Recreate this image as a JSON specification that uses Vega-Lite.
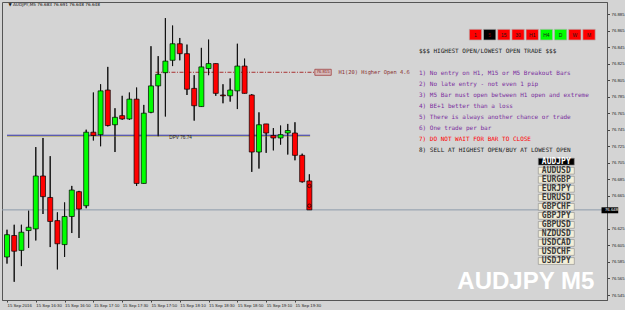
{
  "$schema": "https://vega.github.io/schema/vega-lite/v6.json",
  "width": 605,
  "height": 298,
  "autosize": "none",
  "padding": {"left": 2, "top": 2, "right": 18, "bottom": 10},
  "background": "#d4d4d4",
  "config": {
    "view": {"stroke": "#555555", "strokeWidth": 1},
    "axis": {"grid": false, "labelOverlap": false}
  },
  "datasets": {
    "candles": [
      {"t": "2016-09-15T16:10:00Z", "o": 76.591, "h": 76.624, "l": 76.583, "c": 76.618},
      {"t": "2016-09-15T16:15:00Z", "o": 76.617, "h": 76.630, "l": 76.561, "c": 76.598},
      {"t": "2016-09-15T16:20:00Z", "o": 76.599, "h": 76.630, "l": 76.580, "c": 76.621},
      {"t": "2016-09-15T16:25:00Z", "o": 76.623, "h": 76.647, "l": 76.602, "c": 76.627},
      {"t": "2016-09-15T16:30:00Z", "o": 76.625, "h": 76.724, "l": 76.611, "c": 76.689},
      {"t": "2016-09-15T16:35:00Z", "o": 76.689, "h": 76.735, "l": 76.643, "c": 76.664},
      {"t": "2016-09-15T16:40:00Z", "o": 76.663, "h": 76.713, "l": 76.603, "c": 76.634},
      {"t": "2016-09-15T16:45:00Z", "o": 76.635, "h": 76.645, "l": 76.576, "c": 76.607},
      {"t": "2016-09-15T16:50:00Z", "o": 76.606, "h": 76.657, "l": 76.591, "c": 76.640},
      {"t": "2016-09-15T16:55:00Z", "o": 76.640, "h": 76.677, "l": 76.620, "c": 76.672},
      {"t": "2016-09-15T17:00:00Z", "o": 76.670, "h": 76.671, "l": 76.614, "c": 76.649},
      {"t": "2016-09-15T17:05:00Z", "o": 76.653, "h": 76.745, "l": 76.650, "c": 76.742},
      {"t": "2016-09-15T17:10:00Z", "o": 76.742, "h": 76.790, "l": 76.732, "c": 76.738},
      {"t": "2016-09-15T17:15:00Z", "o": 76.739, "h": 76.800, "l": 76.725, "c": 76.792},
      {"t": "2016-09-15T17:20:00Z", "o": 76.793, "h": 76.821, "l": 76.749, "c": 76.750},
      {"t": "2016-09-15T17:25:00Z", "o": 76.751, "h": 76.771, "l": 76.718, "c": 76.760},
      {"t": "2016-09-15T17:30:00Z", "o": 76.762, "h": 76.786, "l": 76.757, "c": 76.758},
      {"t": "2016-09-15T17:35:00Z", "o": 76.758, "h": 76.790, "l": 76.757, "c": 76.782},
      {"t": "2016-09-15T17:40:00Z", "o": 76.782, "h": 76.796, "l": 76.677, "c": 76.680},
      {"t": "2016-09-15T17:45:00Z", "o": 76.680, "h": 76.775, "l": 76.680, "c": 76.765},
      {"t": "2016-09-15T17:50:00Z", "o": 76.766, "h": 76.846, "l": 76.765, "c": 76.798},
      {"t": "2016-09-15T17:55:00Z", "o": 76.798, "h": 76.834, "l": 76.737, "c": 76.812},
      {"t": "2016-09-15T18:00:00Z", "o": 76.814, "h": 76.880, "l": 76.761, "c": 76.828},
      {"t": "2016-09-15T18:05:00Z", "o": 76.829, "h": 76.871, "l": 76.822, "c": 76.849},
      {"t": "2016-09-15T18:10:00Z", "o": 76.849, "h": 76.856, "l": 76.829, "c": 76.837},
      {"t": "2016-09-15T18:15:00Z", "o": 76.837, "h": 76.848, "l": 76.787, "c": 76.794},
      {"t": "2016-09-15T18:20:00Z", "o": 76.795, "h": 76.811, "l": 76.756, "c": 76.774},
      {"t": "2016-09-15T18:25:00Z", "o": 76.773, "h": 76.844, "l": 76.773, "c": 76.821},
      {"t": "2016-09-15T18:30:00Z", "o": 76.819, "h": 76.854, "l": 76.811, "c": 76.825},
      {"t": "2016-09-15T18:35:00Z", "o": 76.825, "h": 76.825, "l": 76.786, "c": 76.789},
      {"t": "2016-09-15T18:40:00Z", "o": 76.787, "h": 76.800, "l": 76.777, "c": 76.786},
      {"t": "2016-09-15T18:45:00Z", "o": 76.786, "h": 76.807, "l": 76.779, "c": 76.793},
      {"t": "2016-09-15T18:50:00Z", "o": 76.792, "h": 76.849, "l": 76.770, "c": 76.822},
      {"t": "2016-09-15T18:55:00Z", "o": 76.822, "h": 76.831, "l": 76.789, "c": 76.789},
      {"t": "2016-09-15T19:00:00Z", "o": 76.787, "h": 76.788, "l": 76.694, "c": 76.718},
      {"t": "2016-09-15T19:05:00Z", "o": 76.718, "h": 76.766, "l": 76.698, "c": 76.751},
      {"t": "2016-09-15T19:10:00Z", "o": 76.752, "h": 76.752, "l": 76.717, "c": 76.741},
      {"t": "2016-09-15T19:15:00Z", "o": 76.738, "h": 76.747, "l": 76.720, "c": 76.735},
      {"t": "2016-09-15T19:20:00Z", "o": 76.735, "h": 76.750, "l": 76.727, "c": 76.739},
      {"t": "2016-09-15T19:25:00Z", "o": 76.741, "h": 76.752, "l": 76.715, "c": 76.744},
      {"t": "2016-09-15T19:30:00Z", "o": 76.741, "h": 76.754, "l": 76.708, "c": 76.714},
      {"t": "2016-09-15T19:35:00Z", "o": 76.714, "h": 76.716, "l": 76.681, "c": 76.682},
      {"t": "2016-09-15T19:40:00Z", "o": 76.683, "h": 76.691, "l": 76.648, "c": 76.648}
    ],
    "markers": [
      {"t": "2016-09-15T19:40:00Z", "p": 76.677},
      {"t": "2016-09-15T19:40:00Z", "p": 76.653}
    ],
    "rules": [
      {"line": 0, "kind": "header", "text": "$$$ HIGHEST OPEN/LOWEST OPEN TRADE $$$"},
      {"line": 2, "kind": "rule", "text": "1) No entry on H1, M15 or M5 Breakout Bars"},
      {"line": 3, "kind": "rule", "text": "2) No late entry - not even 1 pip"},
      {"line": 4, "kind": "rule", "text": "3) M5 Bar must open between H1 open and extreme"},
      {"line": 5, "kind": "rule", "text": "4) BE+1 better than a loss"},
      {"line": 6, "kind": "rule", "text": "5) There is always another chance or trade"},
      {"line": 7, "kind": "rule", "text": "6) One trade per bar"},
      {"line": 8, "kind": "warning", "text": "7) DO NOT WAIT FOR BAR TO CLOSE"},
      {"line": 9, "kind": "action", "text": "8) SELL AT HIGHEST OPEN/BUY AT LOWEST OPEN"}
    ],
    "timeframes": [
      {"tf": "1", "k": 0, "state": "down"},
      {"tf": "5", "k": 1, "state": "chart"},
      {"tf": "15", "k": 2, "state": "down"},
      {"tf": "30", "k": 3, "state": "down"},
      {"tf": "H1", "k": 4, "state": "down"},
      {"tf": "H4", "k": 5, "state": "up"},
      {"tf": "D", "k": 6, "state": "up"},
      {"tf": "W", "k": 7, "state": "down"},
      {"tf": "M", "k": 8, "state": "down"}
    ],
    "pairs": [
      {"pair": "AUDJPY", "k": 0, "current": true},
      {"pair": "AUDUSD", "k": 1, "current": false},
      {"pair": "EURGBP", "k": 2, "current": false},
      {"pair": "EURJPY", "k": 3, "current": false},
      {"pair": "EURUSD", "k": 4, "current": false},
      {"pair": "GBPCHF", "k": 5, "current": false},
      {"pair": "GBPJPY", "k": 6, "current": false},
      {"pair": "GBPUSD", "k": 7, "current": false},
      {"pair": "NZDUSD", "k": 8, "current": false},
      {"pair": "USDCAD", "k": 9, "current": false},
      {"pair": "USDCHF", "k": 10, "current": false},
      {"pair": "USDJPY", "k": 11, "current": false}
    ]
  },
  "layer": [
    {
      "layer": [
        {
          "data": {"name": "candles"},
          "mark": {"type": "rule", "color": "#111111", "strokeWidth": 1},
          "encoding": {
            "x": {
              "field": "t", "type": "temporal",
              "scale": {"type": "utc", "domain": [
                {"year": 2016, "month": 9, "date": 15, "hours": 16, "minutes": 10, "utc": true},
                {"year": 2016, "month": 9, "date": 15, "hours": 23, "minutes": 3, "seconds": 15, "utc": true}
              ]},
              "axis": {
                "orient": "bottom", "title": null, "tickCount": 40,
                "values": [
                  {"year": 2016, "month": 9, "date": 15, "hours": 16, "minutes": 10, "utc": true},
                  {"year": 2016, "month": 9, "date": 15, "hours": 16, "minutes": 30, "utc": true},
                  {"year": 2016, "month": 9, "date": 15, "hours": 16, "minutes": 50, "utc": true},
                  {"year": 2016, "month": 9, "date": 15, "hours": 17, "minutes": 10, "utc": true},
                  {"year": 2016, "month": 9, "date": 15, "hours": 17, "minutes": 30, "utc": true},
                  {"year": 2016, "month": 9, "date": 15, "hours": 17, "minutes": 50, "utc": true},
                  {"year": 2016, "month": 9, "date": 15, "hours": 18, "minutes": 10, "utc": true},
                  {"year": 2016, "month": 9, "date": 15, "hours": 18, "minutes": 30, "utc": true},
                  {"year": 2016, "month": 9, "date": 15, "hours": 18, "minutes": 50, "utc": true},
                  {"year": 2016, "month": 9, "date": 15, "hours": 19, "minutes": 10, "utc": true},
                  {"year": 2016, "month": 9, "date": 15, "hours": 19, "minutes": 30, "utc": true}
                ],
                "labelExpr": "utcFormat(datum.value, '%H:%M') == '16:10' ? '15 Sep 2016' : utcFormat(datum.value, '%d %b %H:%M')",
                "labelAlign": "left", "labelFont": "Liberation Sans", "labelFontSize": 4.3,
                "labelColor": "#222222", "labelPadding": 1.5, "labelOverlap": false, "labelBound": false,
                "labelFlush": false,
                "tickSize": 2, "tickColor": "#444444", "domainColor": "#555555"
              }
            },
            "y": {
              "field": "l", "type": "quantitative",
              "scale": {"domain": [76.53896, 76.89952], "nice": false, "zero": false},
              "axis": {
                "orient": "right", "title": null, "tickCount": 40,
                "values": [76.545, 76.565, 76.585, 76.605, 76.625, 76.665, 76.685, 76.705, 76.725, 76.745, 76.765, 76.785, 76.805, 76.825, 76.845, 76.865, 76.885],
                "format": ".3f", "labelFont": "Liberation Sans", "labelFontSize": 4.3,
                "labelColor": "#222222", "labelPadding": 1.5, "labelOverlap": false, "labelBound": false,
                "labelFlush": false,
                "tickSize": 2.5, "tickColor": "#444444", "domainColor": "#555555"
              }
            },
            "y2": {"field": "h"}
          }
        },
        {
          "data": {"values": [{}]},
          "mark": {"type": "rule", "color": "#8c9bab", "strokeWidth": 1},
          "encoding": {"y": {"datum": 76.648, "type": "quantitative"}}
        },
        {
          "data": {"values": [{}]},
          "mark": {"type": "rule", "color": "#b8b070", "strokeWidth": 1},
          "encoding": {
            "x": {"datum": {"year": 2016, "month": 9, "date": 15, "hours": 16, "minutes": 10, "utc": true}, "type": "temporal"},
            "x2": {"datum": {"year": 2016, "month": 9, "date": 15, "hours": 19, "minutes": 40, "seconds": 30, "utc": true}},
            "y": {"datum": 76.7370, "type": "quantitative"}
          }
        },
        {
          "data": {"values": [{}]},
          "mark": {"type": "rule", "color": "#3333aa", "strokeWidth": 1},
          "encoding": {
            "x": {"datum": {"year": 2016, "month": 9, "date": 15, "hours": 16, "minutes": 10, "utc": true}, "type": "temporal"},
            "x2": {"datum": {"year": 2016, "month": 9, "date": 15, "hours": 19, "minutes": 40, "seconds": 30, "utc": true}},
            "y": {"datum": 76.7383, "type": "quantitative"}
          }
        },
        {
          "data": {"values": [{}]},
          "mark": {"type": "rule", "color": "#a83232", "strokeWidth": 1, "strokeDash": [4, 1.5, 1, 1.5]},
          "encoding": {
            "x": {"datum": {"year": 2016, "month": 9, "date": 15, "hours": 17, "minutes": 53, "seconds": 8, "utc": true}, "type": "temporal"},
            "x2": {"datum": {"year": 2016, "month": 9, "date": 15, "hours": 19, "minutes": 43, "seconds": 48, "utc": true}},
            "y": {"datum": 76.8145, "type": "quantitative"}
          }
        },
        {
          "data": {"name": "candles"},
          "mark": {"type": "rule", "color": "#111111", "strokeWidth": 1},
          "encoding": {
            "x": {"field": "t", "type": "temporal"},
            "y": {"field": "l", "type": "quantitative"},
            "y2": {"field": "h"}
          }
        },
        {
          "data": {"name": "candles"},
          "mark": {"type": "bar", "width": 5, "stroke": "#000000", "strokeWidth": 0.7},
          "encoding": {
            "x": {"field": "t", "type": "temporal"},
            "y": {"field": "o", "type": "quantitative"},
            "y2": {"field": "c"},
            "color": {"condition": {"test": "datum.c >= datum.o", "value": "#00ff00"}, "value": "#ff0000"}
          }
        },
        {
          "data": {"name": "markers"},
          "mark": {"type": "point", "shape": "circle", "size": 12, "filled": false, "stroke": "#000000", "strokeWidth": 1},
          "encoding": {
            "x": {"field": "t", "type": "temporal"},
            "y": {"field": "p", "type": "quantitative"}
          }
        },
        {
          "data": {"values": [{}]},
          "mark": {"type": "text", "text": "DPV  76.74", "font": "Liberation Sans", "fontSize": 4.7, "color": "#222222", "align": "left", "baseline": "middle"},
          "encoding": {
            "x": {"datum": {"year": 2016, "month": 9, "date": 15, "hours": 18, "minutes": 2, "seconds": 42, "utc": true}, "type": "temporal"},
            "y": {"datum": 76.7353, "type": "quantitative"}
          }
        },
        {
          "data": {"values": [{}]},
          "mark": {"type": "rect", "fill": "#d6baba", "stroke": "#a04040", "strokeWidth": 0.8},
          "encoding": {
            "x": {"datum": {"year": 2016, "month": 9, "date": 15, "hours": 19, "minutes": 43, "seconds": 48, "utc": true}, "type": "temporal"},
            "x2": {"datum": {"year": 2016, "month": 9, "date": 15, "hours": 19, "minutes": 55, "seconds": 12, "utc": true}},
            "y": {"datum": 76.8181, "type": "quantitative"},
            "y2": {"datum": 76.8108}
          }
        },
        {
          "data": {"values": [{}]},
          "mark": {"type": "text", "text": "76.815", "font": "Liberation Sans", "fontSize": 4.3, "color": "#8a2020", "align": "center", "baseline": "middle"},
          "encoding": {
            "x": {"datum": {"year": 2016, "month": 9, "date": 15, "hours": 19, "minutes": 49, "seconds": 28, "utc": true}, "type": "temporal"},
            "y": {"datum": 76.8145, "type": "quantitative"}
          }
        },
        {
          "data": {"values": [{}]},
          "mark": {"type": "text", "text": "H1(20) Higher Open 4.6", "font": "DejaVu Sans Mono", "fontSize": 5.4, "color": "#8a3030", "align": "left", "baseline": "middle"},
          "encoding": {
            "x": {"datum": {"year": 2016, "month": 9, "date": 15, "hours": 20, "minutes": 0, "seconds": 11, "utc": true}, "type": "temporal"},
            "y": {"datum": 76.8145, "type": "quantitative"}
          }
        },
        {
          "data": {"values": [{}]},
          "mark": {"type": "text", "text": "▼ AUDJPY,M5  76.683 76.691 76.648 76.648", "font": "DejaVu Sans", "fontSize": 4.2, "color": "#111111", "align": "left", "baseline": "middle"},
          "encoding": {
            "x": {"datum": {"year": 2016, "month": 9, "date": 15, "hours": 16, "minutes": 11, "seconds": 0, "utc": true}, "type": "temporal"},
            "y": {"datum": 76.8959, "type": "quantitative"}
          }
        },
        {
          "data": {"values": [{}]},
          "mark": {"type": "text", "text": "AUDJPY M5", "font": "Liberation Sans", "fontWeight": "bold", "fontSize": 24, "color": "#ffffff", "align": "center", "baseline": "alphabetic"},
          "encoding": {
            "x": {"datum": {"year": 2016, "month": 9, "date": 15, "hours": 22, "minutes": 10, "seconds": 19, "utc": true}, "type": "temporal"},
            "y": {"datum": 76.5523, "type": "quantitative"}
          }
        },
        {
          "data": {"values": [{}]},
          "mark": {"type": "rect", "fill": "#000000", "clip": false},
          "encoding": {
            "x": {"datum": {"year": 2016, "month": 9, "date": 15, "hours": 23, "minutes": 2, "seconds": 55, "utc": true}, "type": "temporal"},
            "x2": {"datum": {"year": 2016, "month": 9, "date": 15, "hours": 23, "minutes": 14, "seconds": 31, "utc": true}},
            "y": {"datum": 76.6511, "type": "quantitative"},
            "y2": {"datum": 76.6439}
          }
        },
        {
          "data": {"values": [{}]},
          "mark": {"type": "text", "text": "76.648", "font": "Liberation Sans", "fontSize": 4.3, "color": "#ffffff", "align": "left", "baseline": "middle"},
          "encoding": {
            "x": {"datum": {"year": 2016, "month": 9, "date": 15, "hours": 23, "minutes": 5, "seconds": 18, "utc": true}, "type": "temporal"},
            "y": {"datum": 76.6475, "type": "quantitative"}
          }
        }
      ]
    },
    {
      "data": {"name": "rules"},
      "mark": {"type": "text", "font": "DejaVu Sans Mono", "fontSize": 6, "align": "left", "baseline": "middle"},
      "encoding": {
        "x": {
          "datum": {"year": 2016, "month": 9, "date": 15, "hours": 20, "minutes": 54, "seconds": 50, "utc": true}, "type": "temporal",
          "scale": {"type": "utc", "domain": [
            {"year": 2016, "month": 9, "date": 15, "hours": 16, "minutes": 10, "utc": true},
            {"year": 2016, "month": 9, "date": 15, "hours": 23, "minutes": 3, "seconds": 15, "utc": true}
          ]},
          "axis": null
        },
        "y": {"field": "line", "type": "quantitative", "scale": {"domain": [-4.482, 22.609], "reverse": true, "nice": false, "zero": false}, "axis": null},
        "text": {"field": "text"},
        "color": {
          "condition": [
            {"test": "datum.kind == 'rule'", "value": "#7a2e9e"},
            {"test": "datum.kind == 'warning'", "value": "#ff0000"}
          ],
          "value": "#1a1a1a"
        }
      }
    },
    {
      "data": {"name": "timeframes"},
      "layer": [
        {
          "mark": {"type": "rect", "xOffset": -6.2, "x2Offset": 6.2, "stroke": "#b4b4b4", "strokeWidth": 0.7},
          "encoding": {
            "x": {"field": "k", "type": "quantitative", "scale": {"domain": [-33.368, 9.268], "nice": false, "zero": false}, "axis": null},
            "x2": {"field": "k"},
            "y": {"datum": 76.8665, "type": "quantitative", "scale": {"domain": [76.53896, 76.89952], "nice": false, "zero": false}, "axis": null},
            "y2": {"datum": 76.8535},
            "color": {
              "condition": [
                {"test": "datum.state == 'up'", "value": "#00ff00"},
                {"test": "datum.state == 'chart'", "value": "#000000"}
              ],
              "value": "#ff0000"
            }
          }
        },
        {
          "mark": {"type": "text", "font": "Liberation Sans", "fontSize": 5, "align": "center", "baseline": "middle"},
          "encoding": {
            "x": {"field": "k", "type": "quantitative"},
            "y": {"datum": 76.8600, "type": "quantitative"},
            "text": {"field": "tf"},
            "color": {"condition": {"test": "datum.state == 'chart'", "value": "#8b0000"}, "value": "#1a1a1a"}
          }
        }
      ]
    },
    {
      "data": {"name": "pairs"},
      "layer": [
        {
          "mark": {"type": "rect", "yOffset": -3.4, "y2Offset": 3.4, "stroke": "#8a8a8a", "strokeWidth": 0.6},
          "encoding": {
            "x": {
              "datum": {"year": 2016, "month": 9, "date": 15, "hours": 22, "minutes": 16, "seconds": 20, "utc": true}, "type": "temporal",
              "scale": {"type": "utc", "domain": [
                {"year": 2016, "month": 9, "date": 15, "hours": 16, "minutes": 10, "utc": true},
                {"year": 2016, "month": 9, "date": 15, "hours": 23, "minutes": 3, "seconds": 15, "utc": true}
              ]},
              "axis": null
            },
            "x2": {"datum": {"year": 2016, "month": 9, "date": 15, "hours": 22, "minutes": 40, "seconds": 55, "utc": true}},
            "y": {"field": "k", "type": "quantitative", "scale": {"domain": [-17.685, 15.316], "reverse": true, "nice": false, "zero": false}, "axis": null},
            "y2": {"field": "k"},
            "color": {"condition": {"test": "datum.current", "value": "#000000"}, "value": "#f3efd9"}
          }
        },
        {
          "mark": {"type": "text", "font": "DejaVu Sans Mono", "fontSize": 8, "fontWeight": "bold", "align": "center", "baseline": "middle"},
          "encoding": {
            "x": {"datum": {"year": 2016, "month": 9, "date": 15, "hours": 22, "minutes": 28, "seconds": 37, "utc": true}, "type": "temporal"},
            "y": {"field": "k", "type": "quantitative"},
            "text": {"field": "pair"},
            "color": {"condition": {"test": "datum.current", "value": "#ffffff"}, "value": "#3a3a3a"}
          }
        }
      ]
    }
  ],
  "resolve": {"scale": {"x": "independent", "y": "independent"}}
}
